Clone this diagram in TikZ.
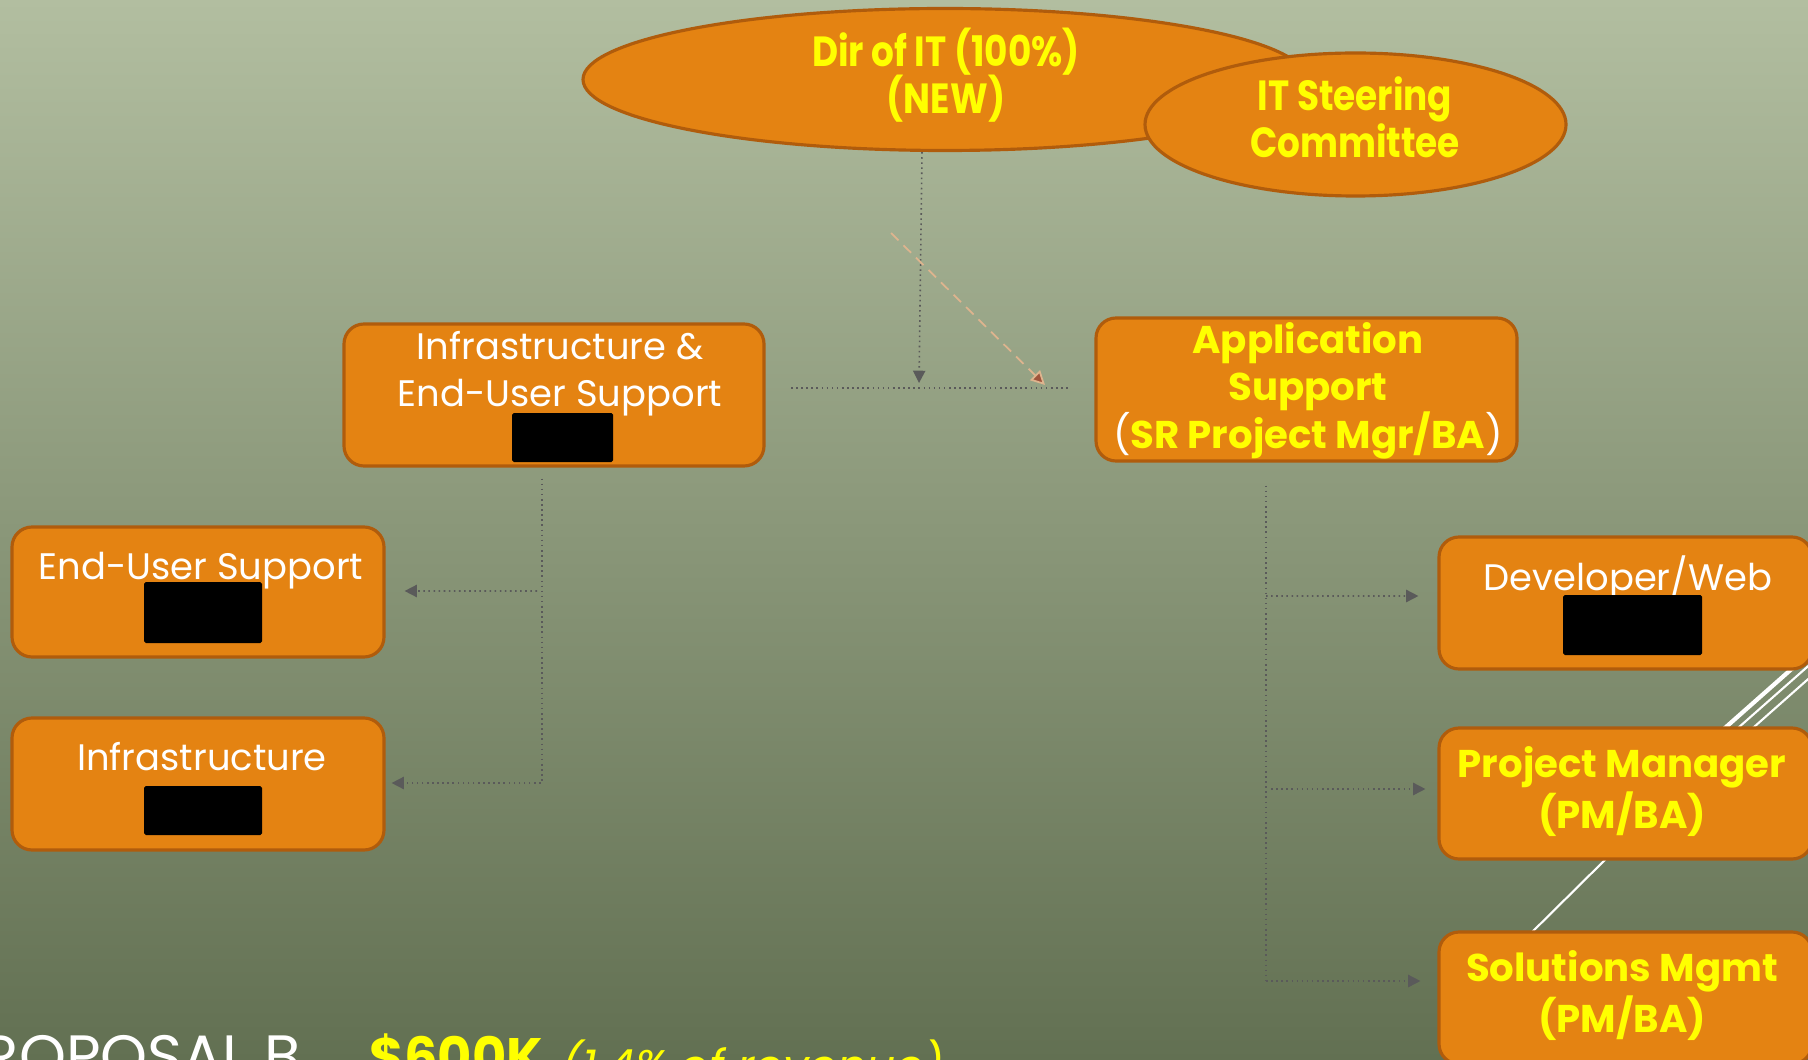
\documentclass[tikz,border=0pt]{standalone}
\usepackage{fontspec}
\setmainfont{Poppins}
\newfontfamily\condfont{Poppins}[FakeStretch=0.85]
\usepackage{xcolor}
\usepackage{tikz}
\usetikzlibrary{shapes, positioning, calc, arrows, arrows.meta}
\definecolor{boxorange}{RGB}{228,131,18}
\definecolor{boxedge}{RGB}{176,92,12}
\definecolor{slidetop}{RGB}{178,190,160}
\definecolor{slidebottom}{RGB}{98,112,82}
\definecolor{txtyellow}{RGB}{255,255,0}
\definecolor{linkgray}{RGB}{90,90,90}
\definecolor{linktan}{RGB}{222,180,142}
\definecolor{tipbrown}{RGB}{160,84,60}

\begin{document}
\begin{tikzpicture}[>={Triangle[length=3.5pt,width=3.5pt]}]
\tikzstyle{oval}=[ellipse, draw=boxedge, line width=0.9pt, fill=boxorange, inner sep=0pt]
\tikzstyle{roundbox}=[rectangle, rounded corners=0.2cm, draw=boxedge, line width=0.9pt, fill=boxorange, inner sep=0pt]
\tikzstyle{hidden}=[rectangle, rounded corners=0.5pt, fill=black, inner sep=0pt]
\tikzstyle{ytxt}=[text=txtyellow, font=\fontsize{11}{13.4}\selectfont\bfseries, align=center, anchor=base, inner sep=0pt]
\tikzstyle{ctxt}=[text=txtyellow, font=\condfont\fontsize{12}{13.6}\selectfont\bfseries, align=center, anchor=base, inner sep=0pt]
\tikzstyle{wtxt}=[text=white, font=\fontsize{10.5}{13.1}\selectfont, align=center, anchor=base, inner sep=0pt]
\tikzstyle{link}=[draw=linkgray, densely dotted, line width=0.45pt]
\tikzstyle{deco}=[draw=white]
%%
\useasboundingbox (0,0) rectangle (18.08,-10.60);
\clip (0,0) rectangle (18.08,-10.60);
\shade[top color=slidetop, bottom color=slidebottom] (0,0) rectangle (18.08,-10.60);

%% slide background strokes
\draw[deco, line width=1.2pt] (17.00,-7.50) -- (18.30,-6.35);
\draw[deco, line width=0.6pt] (17.13,-7.50) -- (18.40,-6.38);
\draw[deco, line width=0.6pt] (17.28,-7.50) -- (18.50,-6.42);
\draw[deco, line width=0.6pt] (15.20,-9.44) -- (16.20,-8.45);

%% top
\node (dir) at (9.45,-0.795) [oval, minimum width=7.24cm, minimum height=1.42cm] {};
\node (steer) at (13.555,-1.245) [oval, minimum width=4.21cm, minimum height=1.43cm] {};
\node (dirtxt) at (9.46,-1.14) [ctxt] {Dir of IT (100\%)\\(NEW)};
\node (steertxt) at (13.55,-1.58) [ctxt] {IT Steering\\Committee};

%% second row
\node (infra) at (5.54,-3.95) [roundbox, minimum width=4.20cm, minimum height=1.42cm] {};
\node (app) at (13.065,-3.895) [roundbox, minimum width=4.21cm, minimum height=1.43cm] {};
\node (infratxt) at (5.60,-4.06) [wtxt] {Infrastructure \&\\End-User Support};
\node (apptxt) at (13.08,-4.48) [ytxt] {Application\\Support\\{\color{white}\mdseries(}SR Project Mgr/BA{\color{white}\mdseries)}};
\node (infrahid) at (5.625,-4.375) [hidden, minimum width=1.01cm, minimum height=0.49cm] {};

%% left column
\node (eus) at (1.98,-5.92) [roundbox, minimum width=3.72cm, minimum height=1.30cm] {};
\node (inf) at (1.98,-7.84) [roundbox, minimum width=3.72cm, minimum height=1.32cm] {};
\node (eustxt) at (2.01,-5.79) [wtxt] {End-User Support};
\node (inftxt) at (2.02,-7.70) [wtxt] {Infrastructure};
\node (eushid) at (2.03,-6.125) [hidden, minimum width=1.18cm, minimum height=0.61cm] {};
\node (infhid) at (2.03,-8.105) [hidden, minimum width=1.18cm, minimum height=0.49cm] {};

%% right column
\node (dev) at (16.255,-6.03) [roundbox, minimum width=3.73cm, minimum height=1.32cm] {};
\node (pm) at (16.255,-7.935) [roundbox, minimum width=3.73cm, minimum height=1.31cm] {};
\node (sol) at (16.255,-9.98) [roundbox, minimum width=3.73cm, minimum height=1.32cm] {};
\node (devtxt) at (16.28,-5.90) [wtxt] {Developer/Web};
\node (pmtxt) at (16.22,-8.28) [ytxt] {Project Manager\\(PM/BA)};
\node (soltxt) at (16.22,-10.32) [ytxt] {Solutions Mgmt\\(PM/BA)};
\node (devhid) at (16.325,-6.25) [hidden, minimum width=1.39cm, minimum height=0.60cm] {};

%% connectors
\coordinate (jn) at (9.19,-3.83);
\coordinate (hl) at (7.91,-3.88);
\coordinate (hr) at (10.68,-3.88);
\coordinate (dg1) at (8.91,-2.33);
\coordinate (dg2) at (10.45,-3.85);
\draw[link, ->] ([xshift=-0.23cm]dir.south) -- (jn);
\draw[link] (hl) -- (hr);
\draw[draw=linktan, densely dashed, line width=0.5pt, -{Triangle[length=4pt,width=4pt,fill=tipbrown]}] (dg1) -- (dg2);

\coordinate (lb) at (5.37,-5.91);
\draw[link, ->, shorten <=0.11cm] ([xshift=-0.12cm]infra.south) |- ([xshift=0.06cm,yshift=0.01cm]inf.east);
\draw[link, ->] (lb) -- ([xshift=0.19cm,yshift=0.01cm]eus.east);

\coordinate (rb1) at (12.66,-5.96);
\coordinate (rb2) at (12.71,-7.89);
\coordinate (rb3) at (12.66,-9.81);
\draw[link, shorten <=0.23cm] ([xshift=-0.405cm]app.south) -- (rb3);
\draw[link, ->] (rb1) -- ([xshift=-0.19cm,yshift=0.07cm]dev.west);
\draw[link, ->] (rb2) -- ([xshift=-0.12cm,yshift=0.045cm]pm.west);
\draw[link, ->] (rb3) -- ([xshift=-0.17cm,yshift=0.17cm]sol.west);

%% title line, cut by the slide edge
\node (proptxt) at (3.02,-10.77) [anchor=base east, inner sep=0pt, text=white, font=\fontsize{17}{20}\selectfont] {PROPOSAL B};
\node (costtxt) at (3.69,-10.75) [anchor=base west, inner sep=0pt, text=txtyellow, font=\fontsize{15}{18}\selectfont\bfseries] {\$600K};
\node (sharetxt) at (5.61,-10.82) [anchor=base west, inner sep=0pt, text=txtyellow, font=\fontsize{13}{16}\selectfont\itshape] {(1.4\% of revenue)};
\end{tikzpicture}
\end{document}
